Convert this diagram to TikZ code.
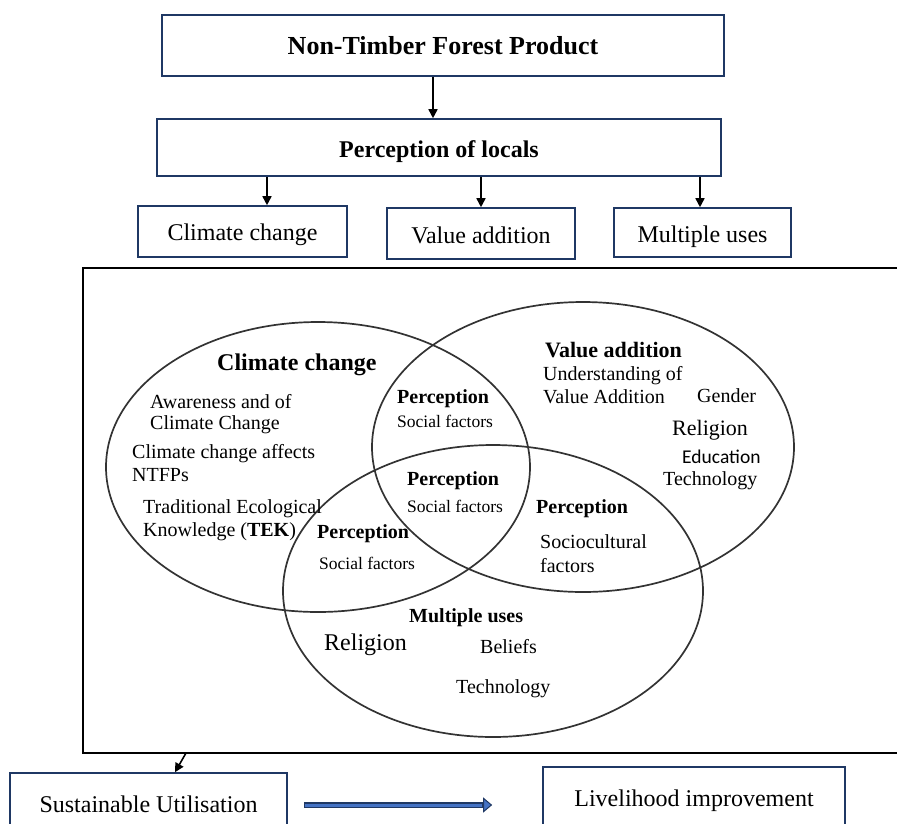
\documentclass[tikz,border=0pt]{standalone}
\usepackage{fontspec}
\setmainfont{Liberation Serif}
\newfontfamily\calib{Carlito}
\usetikzlibrary{arrows.meta,shapes.geometric}
\definecolor{navy}{HTML}{1F3864}
\definecolor{midblue}{HTML}{4472C4}
\definecolor{elline}{HTML}{333333}
\begin{document}
\begin{tikzpicture}[x=1pt,y=-1pt,
  box/.style={draw=navy, line width=1.6pt, rectangle, inner sep=0pt},
  arr/.style={draw=black, line width=1.6pt, -{Triangle[length=9pt,width=9pt]}},
  venn/.style={draw=elline, line width=1.7pt, ellipse, inner sep=0pt},
  lbl/.style={anchor=base west, inner sep=0pt},
  t20/.style={lbl, font=\fontsize{20}{23}\selectfont},
  s18/.style={lbl, font=\fontsize{17.5}{20}\selectfont},
  b20/.style={lbl, font=\fontsize{20}{23}\selectfont\bfseries},
  boxtxt/.style={font=\fontsize{24}{28}\selectfont},
  lowtxt/.style={text height=24pt, text depth=5pt},
]
\useasboundingbox (0,0) rectangle (897,823);

% top boxes
\node[box, lowtxt, text height=23pt, minimum width=562pt, minimum height=61pt, font=\fontsize{26}{30}\selectfont\bfseries] (ntfp) at (443,45.5) {Non-Timber Forest Product};
\node[box, lowtxt, minimum width=564pt, minimum height=57pt, font=\fontsize{24}{28}\selectfont\bfseries] (perc) at (439,147.5) {Perception of locals};
\node[box, boxtxt, lowtxt, text height=22pt, minimum width=209pt, minimum height=51pt] (cc) at (242.5,231.5) {Climate change};
\node[box, boxtxt, lowtxt, minimum width=188pt, minimum height=51pt] (va) at (481,233.5) {Value addition};
\node[box, boxtxt, lowtxt, minimum width=177pt, minimum height=49pt] (mu) at (702.5,232.5) {Multiple uses};

\draw[arr] ([xshift=-10pt]ntfp.south) -- ([xshift=-10pt]ntfp.south |- perc.north);
\draw[arr] ([xshift=24.5pt]cc.north |- perc.south) -- ([xshift=24.5pt]cc.north);
\draw[arr] (va.north |- perc.south) -- (va.north);
\draw[arr] ([xshift=-2.5pt]mu.north |- perc.south) -- ([xshift=-2.5pt]mu.north);

% frame
\node[draw=black, line width=2.4pt, minimum width=830pt, minimum height=485pt, inner sep=0pt] (frame) at (498,510.5) {};

% venn ellipses
\node[venn, minimum width=424pt, minimum height=290pt] (e1) at (318,467) {};
\node[venn, minimum width=422pt, minimum height=290pt] (e2) at (583,447) {};
\node[venn, minimum width=420pt, minimum height=292pt] (e3) at (493,591) {};

% climate change set
\node[lbl, font=\fontsize{24}{28}\selectfont\bfseries] (cct) at (217,370) {Climate change};
\node[t20] (cc1) at (150,408) {Awareness and of};
\node[t20] (cc2) at (150,429) {Climate Change};
\node[t20] (cc3) at (132,458) {Climate change affects};
\node[t20] (cc4) at (132,481) {NTFPs};
\node[t20] (cc5) at (143,513) {Traditional Ecological};
\node[t20] (cc6) at (143,536) {Knowledge (\textbf{TEK})};

% intersections
\node[b20] (p1) at (397,403) {Perception};
\node[s18] (s1) at (397,427) {Social factors};
\node[b20] (p2) at (407,485) {Perception};
\node[s18] (s2) at (407,512) {Social factors};
\node[b20] (p3) at (317,538) {Perception};
\node[s18] (s3) at (319,569) {Social factors};
\node[b20] (p4) at (536,513) {Perception};
\node[t20] (s4a) at (540,548) {Sociocultural};
\node[t20] (s4b) at (540,572) {factors};

% value addition set
\node[lbl, font=\fontsize{22}{26}\selectfont\bfseries] (vat) at (545,357) {Value addition};
\node[t20] (va1) at (543,380) {Understanding of};
\node[t20] (va2) at (543,403) {Value Addition};
\node[t20] (va3) at (697,402) {Gender};
\node[lbl, font=\fontsize{22}{26}\selectfont] (va4) at (672,435) {Religion};
\node[lbl, font=\fontsize{19.5}{23}\calib] (va5) at (682,463) {Education};
\node[t20] (va6) at (663,485) {Technology};

% multiple uses set
\node[b20] (mut) at (409,622) {Multiple uses};
\node[lbl, font=\fontsize{24}{28}\selectfont] (mu1) at (324,650) {Religion};
\node[t20] (mu2) at (480,653) {Beliefs};
\node[t20] (mu3) at (456,693) {Technology};

% bottom boxes
\node[box, boxtxt, minimum width=277pt, minimum height=62pt] (su) at (148.5,804) {Sustainable Utilisation};
\node[box, boxtxt, minimum width=302pt, minimum height=68pt] (li) at (694,801) {Livelihood improvement};

\coordinate (fa) at (186,753);
\draw[arr] (fa) -- ([xshift=26.5pt]su.north);

\draw[navy, line width=6pt, -{Triangle[length=9pt,width=15pt,line width=1pt,fill=midblue]},
      shorten <=16pt, shorten >=50pt,
      postaction={draw=midblue, line width=3pt, -, shorten <=17pt, shorten >=60pt}]
  ([yshift=-1pt]su.east) -- ([yshift=-1pt]su.east -| li.west);
\end{tikzpicture}
\end{document}
